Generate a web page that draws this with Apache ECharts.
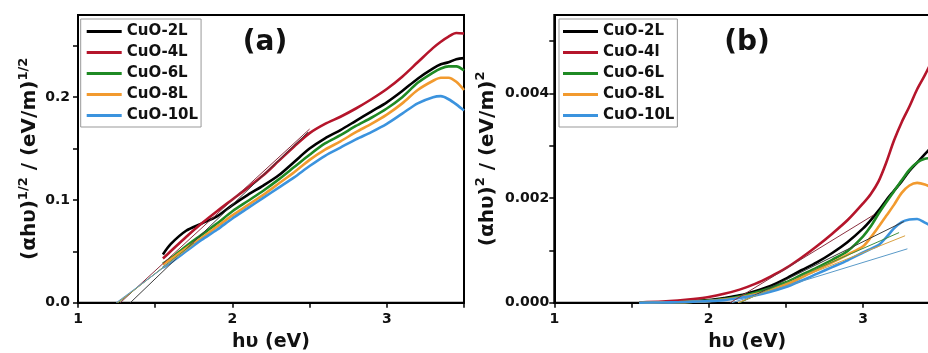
<!DOCTYPE html>
<html><head><meta charset="utf-8">
<script src="https://cdn.jsdelivr.net/npm/echarts@6/dist/echarts.min.js"></script>
<style>html,body{margin:0;padding:0;background:#fff}#c{width:928px;height:353px}</style>
</head><body><div id="c"></div>
<script>
// ---------- data ----------
const namesA = ['CuO-2L','CuO-4L','CuO-6L','CuO-8L','CuO-10L'];
const namesB = ['CuO-2L','CuO-4l','CuO-6L','CuO-8L','CuO-10L'];
const colors = ['#000000','#b5152b','#1f8a24','#f29a2e','#3b93de'];
const tangentColors = ['#3a3a3a','#8b3040','#3f8f3f','#d9a040','#5a9ac8'];

// panel (a): (alpha h nu)^(1/2)
const xA = [1.55,1.6,1.7,1.8,1.9,2.0,2.1,2.2,2.3,2.4,2.5,2.6,2.7,2.8,2.9,3.0,3.1,3.2,3.3,3.35,3.4,3.45,3.5];
const a2L  = [0.047,0.057,0.070,0.077,0.084,0.095,0.105,0.114,0.124,0.137,0.150,0.160,0.168,0.177,0.186,0.195,0.206,0.218,0.228,0.232,0.234,0.237,0.238];
const a4L  = [0.043,0.050,0.064,0.077,0.089,0.1005,0.112,0.124,0.138,0.152,0.165,0.174,0.181,0.189,0.198,0.208,0.220,0.234,0.248,0.254,0.259,0.2625,0.262];
const a6L  = [0.038,0.043,0.055,0.066,0.077,0.089,0.099,0.109,0.120,0.132,0.144,0.155,0.163,0.172,0.180,0.189,0.200,0.214,0.224,0.228,0.230,0.230,0.226];
const a8L  = [0.037,0.042,0.053,0.063,0.074,0.085,0.095,0.105,0.116,0.127,0.139,0.149,0.157,0.166,0.174,0.183,0.194,0.207,0.216,0.219,0.219,0.215,0.207];
const a10L = [0.034,0.039,0.050,0.061,0.071,0.082,0.092,0.102,0.112,0.122,0.133,0.143,0.151,0.159,0.166,0.174,0.184,0.194,0.200,0.201,0.198,0.193,0.187];
// tangent lines (a): [x0, y0, x1, y1]
const tanA2L  = [1.339,0,2.49,0.166];
const tanA4L  = [1.274,0,2.50,0.169];
const tanA6L  = [1.26,0,1.75,0.058];
const tanA8L  = [1.255,0,1.75,0.057];
const tanA10L = [1.248,0,1.75,0.056];

// panel (b): (alpha h nu)^2
const xB = [1.55,1.7,1.8,1.9,2.0,2.1,2.2,2.3,2.4,2.5,2.6,2.7,2.8,2.9,3.0,3.05,3.1,3.15,3.2,3.25,3.3,3.35,3.4,3.45];
const b2L  = [0,0.00001,0.00002,0.00003,0.00005,0.00009,0.00014,0.00022,0.00032,0.00046,0.00062,0.00077,0.00095,0.00116,0.00142,0.00158,0.00176,0.00196,0.00214,0.00232,0.00252,0.00268,0.00284,0.00300];
const b4l  = [0.000005,0.00002,0.00004,0.00007,0.00011,0.00017,0.00025,0.00036,0.00050,0.00066,0.00086,0.00108,0.00132,0.00158,0.00190,0.00208,0.00232,0.00268,0.00310,0.00345,0.00375,0.00408,0.00435,0.00465];
const b6L  = [0,0.00001,0.00001,0.00002,0.00004,0.00007,0.00012,0.00019,0.00028,0.00039,0.00053,0.00067,0.00082,0.00099,0.00127,0.00146,0.00170,0.00192,0.00213,0.00234,0.00254,0.00268,0.00275,0.00277];
const b8L  = [0,0.00001,0.00001,0.00002,0.00003,0.00006,0.00010,0.00016,0.00024,0.00034,0.00048,0.00063,0.00077,0.00092,0.00108,0.00125,0.00145,0.00166,0.00187,0.00210,0.00224,0.00229,0.00226,0.00219];
const b10L = [0,0.000005,0.00001,0.00002,0.00003,0.00005,0.00009,0.00014,0.00021,0.00030,0.00042,0.00055,0.00068,0.00081,0.00096,0.00103,0.00110,0.00125,0.00142,0.00154,0.00159,0.00160,0.00153,0.00145];
const tanB2L  = [2.20,0,3.263,0.00155];
const tanB4l  = [2.14,0,3.07,0.00168];
const tanB6L  = [2.20,0,3.233,0.00134];
const tanB8L  = [2.19,0,3.272,0.00128];
const tanB10L = [2.15,0,3.287,0.00103];

// ---------- chart ----------
const FONT = '"DejaVu Sans", sans-serif';
const INK = '#111';
const pair = (xs, ys) => xs.map((x, i) => [x, ys[i]]);
const seg = t => [[t[0], t[1]], [t[2], t[3]]];

const curvesA = [a2L, a4L, a6L, a8L, a10L];
const curvesB = [b2L, b4l, b6L, b8L, b10L];
const tansA = [tanA2L, tanA4L, tanA6L, tanA8L, tanA10L];
const tansB = [tanB2L, tanB4l, tanB6L, tanB8L, tanB10L];

const series = [];
[[namesA, xA, curvesA, tansA, 0], [namesB, xB, curvesB, tansB, 1]].forEach(([names, xs, curves, tans, gi]) => {
  names.forEach((n, i) => {
    series.push({
      type: 'line', name: n, xAxisIndex: gi, yAxisIndex: gi,
      data: pair(xs, curves[i]), smooth: 0.3, symbol: 'none', color: colors[i],
      lineStyle: { width: 2.6, color: colors[i] }, z: 2, silent: true
    });
  });
  tans.forEach((t, i) => {
    series.push({
      type: 'line', name: 'tangent-' + gi + '-' + i, xAxisIndex: gi, yAxisIndex: gi,
      data: seg(t), symbol: 'none', lineStyle: { width: 1, color: tangentColors[i] }, z: 3, silent: true
    });
  });
});

const labelStyle = { color: INK, fontSize: 14, fontWeight: 'bold', fontFamily: FONT };
function xAxisCfg(gi) {
  return {
    type: 'value', gridIndex: gi, min: 1, max: 3.5, interval: 0.5,
    axisLine: { onZero: false, lineStyle: { color: '#000', width: 2 } },
    axisTick: { length: 5, lineStyle: { color: '#000', width: 1.5 } },
    splitLine: { show: false },
    axisLabel: Object.assign({ margin: 10, formatter: v => Math.abs(v - Math.round(v)) < 1e-6 ? String(Math.round(v)) : '' }, labelStyle),
    name: 'hυ (eV)', nameLocation: 'middle', nameGap: 30,
    nameTextStyle: { color: INK, fontSize: 19, fontWeight: 'bold', fontFamily: FONT }
  };
}
function yName(sup) { return '{m|(αhυ)}{s|' + sup + '}{m| / (eV/m)}{s|' + sup + '}'; }
const yRich = {
  m: { fontSize: 20, fontWeight: 'bold', fontFamily: FONT, color: INK, lineHeight: 26 },
  s: { fontSize: 13, fontWeight: 'bold', fontFamily: FONT, color: INK, lineHeight: 14, verticalAlign: 'top' }
};
const yAxes = [
  {
    type: 'value', gridIndex: 0, min: 0, max: 0.28, interval: 0.05,
    axisLine: { lineStyle: { color: '#000', width: 2 } },
    axisTick: { length: 5, lineStyle: { color: '#000', width: 1.5 } },
    splitLine: { show: false },
    axisLabel: Object.assign({ margin: 8, showMaxLabel: false,
      formatter: v => Math.abs(v * 10 - Math.round(v * 10)) < 1e-6 ? v.toFixed(1) : '' }, labelStyle),
    name: yName('1/2'), nameLocation: 'middle', nameRotate: 90, nameGap: 35, nameMoveOverlap: false,
    nameTextStyle: { rich: yRich }
  },
  {
    type: 'value', gridIndex: 1, min: 0, max: 0.0055, interval: 0.001,
    axisLine: { lineStyle: { color: '#000', width: 2 } },
    axisTick: { length: 5, lineStyle: { color: '#000', width: 1.5 } },
    splitLine: { show: false },
    axisLabel: Object.assign({ margin: 5, showMaxLabel: false,
      formatter: v => { const k = Math.round(v * 1000); return (Math.abs(v * 1000 - k) < 1e-6 && k % 2 === 0) ? v.toFixed(3) : ''; } }, labelStyle),
    name: yName('2'), nameLocation: 'middle', nameRotate: 90, nameGap: 54, nameMoveOverlap: false,
    nameTextStyle: { rich: yRich }
  }
];

function legendCfg(left, names, padLeft) {
  return {
    orient: 'vertical', left: left, top: 19, itemWidth: 35, itemHeight: 3, icon: 'rect', itemGap: 0,
    padding: [2, 3, 1, padLeft], borderColor: '#999', borderWidth: 1, backgroundColor: '#fff',
    selectedMode: false, data: names,
    textStyle: { fontSize: 15, fontWeight: 'bold', fontFamily: FONT, color: INK, lineHeight: 21 }
  };
}

const option = {
  animation: false,
  backgroundColor: '#fff',
  grid: [
    { left: 78, top: 15, width: 386, height: 287.7, show: true, borderColor: '#000', borderWidth: 2, backgroundColor: 'transparent', outerBoundsMode: 'none', containLabel: false },
    { left: 554.3, top: 15, width: 386, height: 287.7, show: true, borderColor: '#000', borderWidth: 2, backgroundColor: 'transparent', outerBoundsMode: 'none', containLabel: false }
  ],
  xAxis: [xAxisCfg(0), xAxisCfg(1)],
  yAxis: yAxes,
  legend: [legendCfg(80.7, namesA, 6), legendCfg(559, namesB, 4)],
  graphic: [
    { type: 'text', x: 265, y: 43, z: 10, style: { text: '(a)', font: 'bold 28px "DejaVu Sans"', fill: INK, align: 'center', verticalAlign: 'middle', textAlign: 'center', textVerticalAlign: 'middle' } },
    { type: 'text', x: 747, y: 43, z: 10, style: { text: '(b)', font: 'bold 28px "DejaVu Sans"', fill: INK, align: 'center', verticalAlign: 'middle', textAlign: 'center', textVerticalAlign: 'middle' } }
  ],
  series: series
};
const chart = echarts.init(document.getElementById('c'), null, { renderer: 'canvas' });
chart.setOption(option);
</script>
</body></html>
